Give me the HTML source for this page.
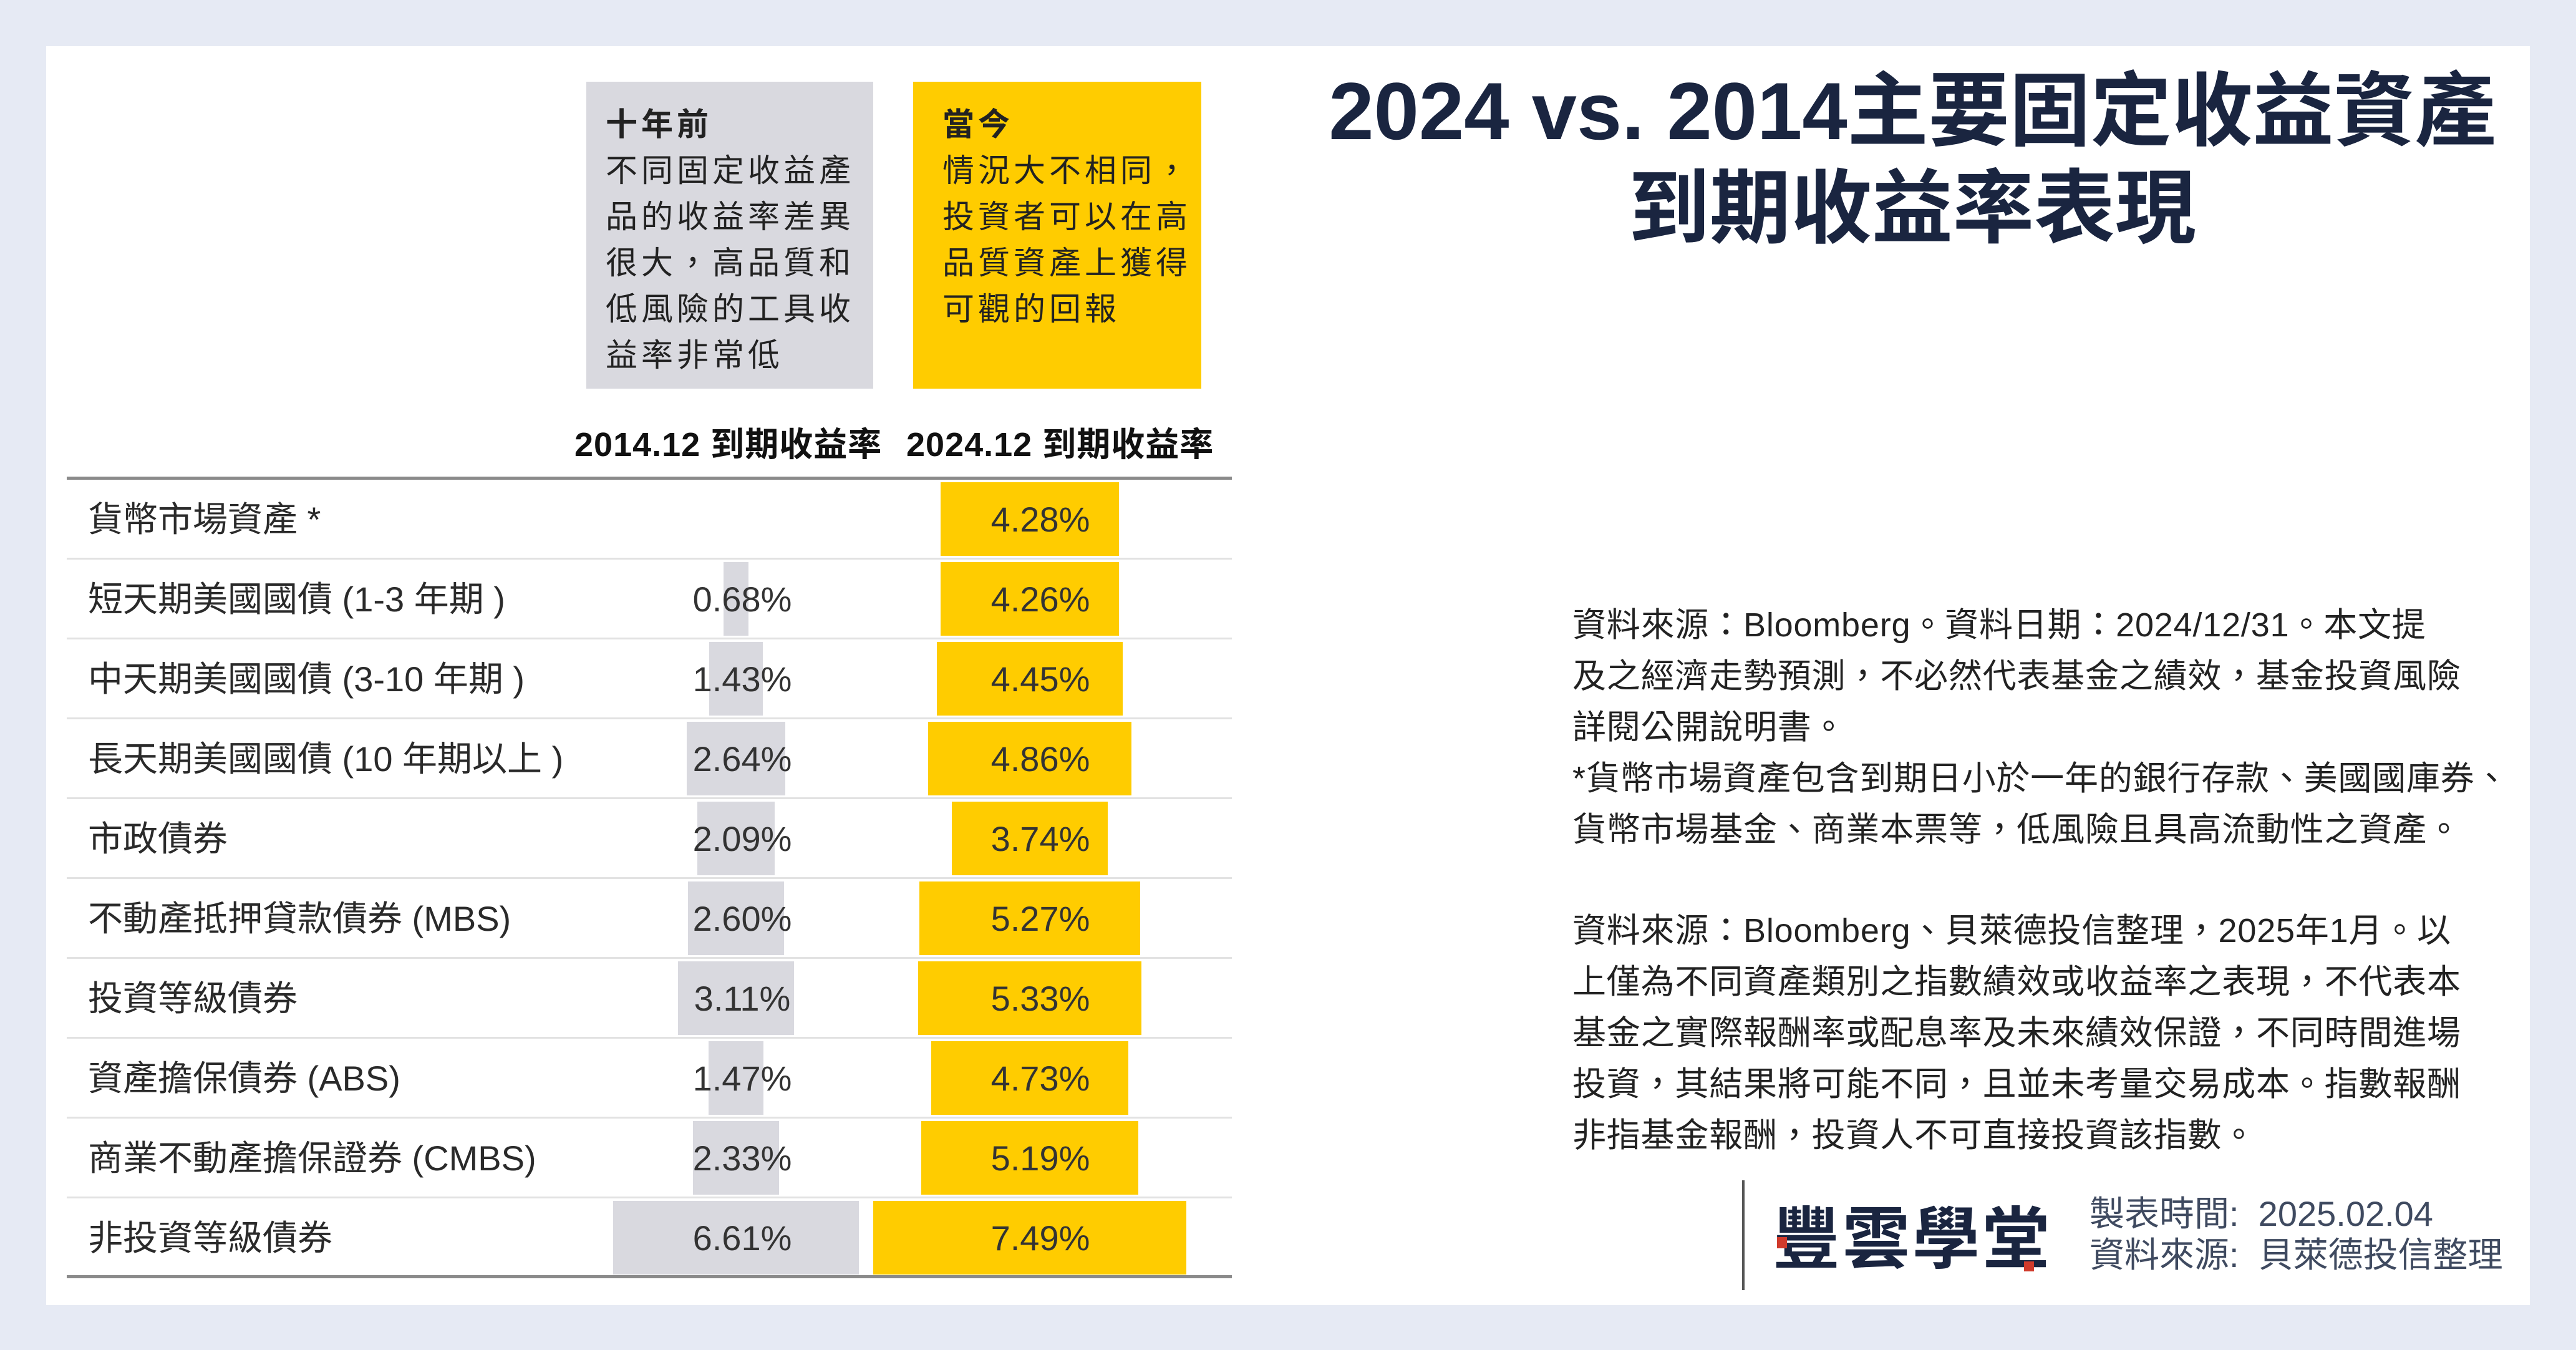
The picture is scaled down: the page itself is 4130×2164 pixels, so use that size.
<!DOCTYPE html>
<html><head><meta charset="utf-8"><style>
*{margin:0;padding:0;box-sizing:border-box}
body{width:4130px;height:2164px;background:#e6eaf4;position:relative;overflow:hidden;font-family:"Liberation Sans","Noto Sans CJK TC",sans-serif;color:#222}
.card{position:absolute;left:74px;top:74px;width:3982px;height:2018px;background:#fff}
.a{position:absolute;white-space:nowrap}
.box{position:absolute;top:131px;height:492px}
.bt{position:absolute;font-size:51px;line-height:74px;letter-spacing:6px;color:#222}
.hdr{font-weight:bold;font-size:54px;letter-spacing:1px;color:#111;top:668px}
.rl{position:absolute;left:107px;width:1868px;height:3px;background:#e2e2e2}
.lab{position:absolute;left:141px;font-size:56px;color:#2a2a2a;height:128px;line-height:128px}
.g{position:absolute;background:#d9d9df}
.y{position:absolute;background:#ffcc00}
.v{position:absolute;font-size:56px;color:#333;width:300px;text-align:center;height:128px;line-height:128px}
.p{position:absolute;left:2521px;font-size:54px;letter-spacing:0.8px;word-spacing:4px;color:#222;white-space:nowrap}
</style></head><body>
<div class="card"></div>

<div class="box" style="left:940px;width:460px;background:#d9d9df"></div>
<div class="box" style="left:1464px;width:462px;background:#ffcc00"></div>
<div class="bt" style="left:971px;top:163px"><b>十年前</b><br>不同固定收益產<br>品的收益率差異<br>很大，高品質和<br>低風險的工具收<br>益率非常低</div>
<div class="bt" style="left:1511px;top:163px"><b>當今</b><br>情況大不相同，<br>投資者可以在高<br>品質資產上獲得<br>可觀的回報</div>

<div class="a hdr" style="left:921px">2014.12 到期收益率</div>
<div class="a hdr" style="left:1453px">2024.12 到期收益率</div>
<div class="a" style="left:107px;top:764px;width:1868px;height:5px;background:#8a8a8a"></div>
<div class="a" style="left:107px;top:2044px;width:1868px;height:5px;background:#8a8a8a"></div>

<div id="rows"></div>
<script>
var d=[["貨幣市場資產 *",null,4.28],["短天期美國國債 (1-3 年期 )",0.68,4.26],["中天期美國國債 (3-10 年期 )",1.43,4.45],["長天期美國國債 (10 年期以上 )",2.64,4.86],["市政債券",2.09,3.74],["不動產抵押貸款債券 (MBS)",2.60,5.27],["投資等級債券",3.11,5.33],["資產擔保債券 (ABS)",1.47,4.73],["商業不動產擔保證券 (CMBS)",2.33,5.19],["非投資等級債券",6.61,7.49]];
var h="";
for(var i=0;i<d.length;i++){var t=769+128*i;
if(i>0)h+='<div class="rl" style="top:'+(t-3)+'px"></div>';
if(d[i][1]!==null){var w=d[i][1]*59.5;h+='<div class="g" style="left:'+(1180-w/2)+'px;top:'+(t+4)+'px;width:'+w+'px;height:118px"></div>';h+='<div class="v" style="left:1040px;top:'+t+'px">'+d[i][1].toFixed(2)+'%</div>';}
var w2=d[i][2]*67;h+='<div class="y" style="left:'+(1651-w2/2)+'px;top:'+(t+4)+'px;width:'+w2+'px;height:118px"></div>';
h+='<div class="v" style="left:1518px;top:'+t+'px">'+d[i][2].toFixed(2)+'%</div>';
h+='<div class="lab" style="top:'+t+'px">'+d[i][0]+'</div>';}
document.getElementById("rows").innerHTML=h;
</script>

<div class="a" style="left:2066px;width:2000px;text-align:center;top:100px;font-size:130px;line-height:156px;font-weight:bold;color:#1a2540">2024 vs. 2014主要固定收益資產<br>到期收益率表現</div>

<div class="p" style="top:961px;line-height:82px">資料來源：Bloomberg。資料日期：2024/12/31。本文提<br>及之經濟走勢預測，不必然代表基金之績效，基金投資風險<br>詳閱公開說明書。<br>*貨幣市場資產包含到期日小於一年的銀行存款、美國國庫券、<br>貨幣市場基金、商業本票等，低風險且具高流動性之資產。</div>
<div class="p" style="top:1451px;line-height:82px">資料來源：Bloomberg、貝萊德投信整理，2025年1月。以<br>上僅為不同資產類別之指數績效或收益率之表現，不代表本<br>基金之實際報酬率或配息率及未來績效保證，不同時間進場<br>投資，其結果將可能不同，且並未考量交易成本。指數報酬<br>非指基金報酬，投資人不可直接投資該指數。</div>

<div class="a" style="left:2793px;top:1892px;width:4px;height:176px;background:#555"></div>
<div class="a" style="left:2842px;top:1925px;font-size:108px;line-height:124px;font-weight:bold;color:#1a2540;letter-spacing:4px">豐雲學堂</div>
<div class="a" style="left:2849px;top:1983px;width:16px;height:18px;background:#d03a2b"></div>
<div class="a" style="left:3245px;top:2022px;width:16px;height:16px;background:#d03a2b"></div>
<div class="a" style="left:3350px;top:1913px;font-size:56px;line-height:66px;color:#3f4a60">製表時間:&nbsp; 2025.02.04<br>資料來源:&nbsp; 貝萊德投信整理</div>
</body></html>
